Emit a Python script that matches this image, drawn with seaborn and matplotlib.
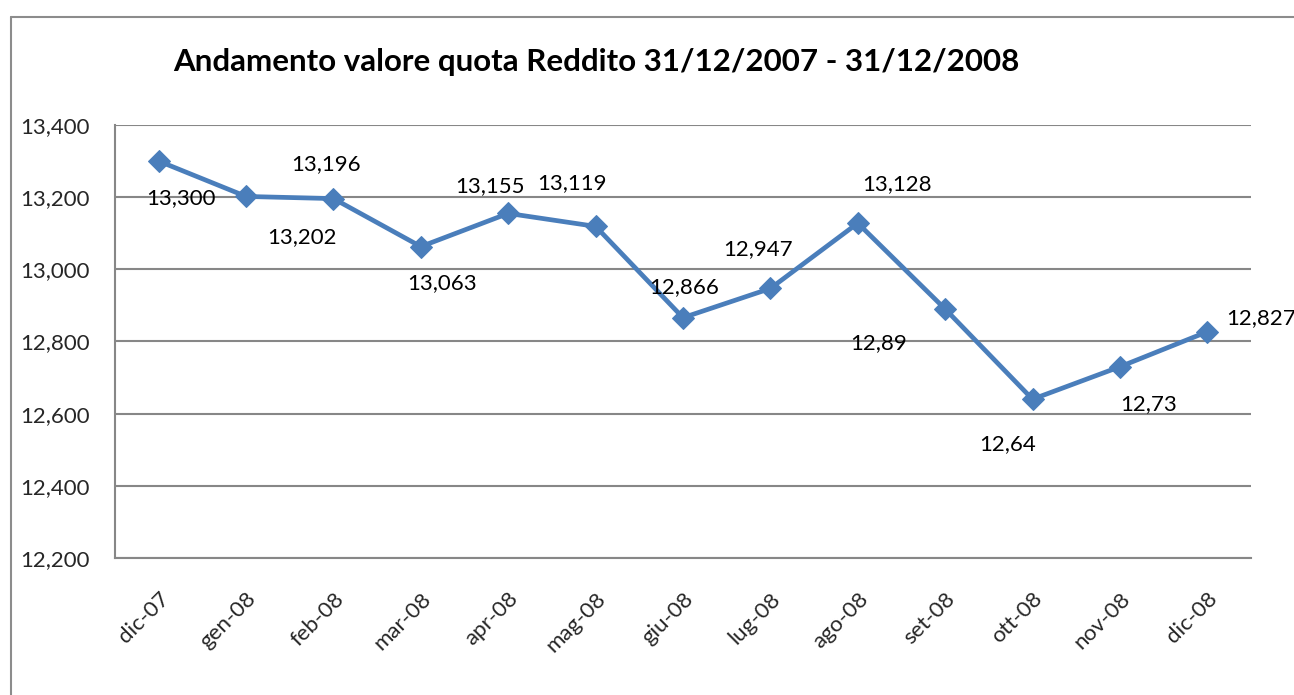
import pandas as pd
import matplotlib.pyplot as plt
import seaborn as sns
from matplotlib.lines import Line2D

# dati
mesi = ['dic-07', 'gen-08', 'feb-08', 'mar-08', 'apr-08', 'mag-08', 'giu-08',
        'lug-08', 'ago-08', 'set-08', 'ott-08', 'nov-08', 'dic-08']
valori = [13.300, 13.202, 13.196, 13.063, 13.155, 13.119, 12.866,
          12.947, 13.128, 12.89, 12.64, 12.73, 12.827]
etichette = ['13,300', '13,202', '13,196', '13,063', '13,155', '13,119', '12,866',
             '12,947', '13,128', '12,89', '12,64', '12,73', '12,827']
# spostamento etichette (pixel)
offset_etichette = [(22, -37), (56, -41), (-7, 35), (21, -36), (-18, 27), (-24, 43),
                    (1, 31), (-12, 39), (39, 39), (-67, -34), (-25, -45), (29, -37), (54, 14)]
tick_y = [12.2, 12.4, 12.6, 12.8, 13.0, 13.2, 13.4]

df = pd.DataFrame({'mese': mesi, 'valore': valori})
df['pos'] = range(len(df))

sns.set_theme(style="white")
plt.rcParams['font.family'] = ['Lato', 'DejaVu Sans']

blu = '#4a7ebb'
grigio = '#878787'

fig = plt.figure(figsize=(12.94, 6.95), dpi=100)
ax = fig.add_axes([115 / 1294, 1 - 558 / 695, (1251 - 115) / 1294, (558 - 125) / 695])

sns.lineplot(data=df, x='pos', y='valore', ax=ax, color=blu, linewidth=3.4,
             marker='D', markersize=11.5, markeredgecolor=blu, markerfacecolor=blu)

for x, y, t, (dx, dy) in zip(df['pos'], df['valore'], etichette, offset_etichette):
    ax.annotate(t, (x, y), xytext=(dx, dy), textcoords='offset pixels',
                ha='center', va='center', fontsize=16, color='black',
                annotation_clip=False)

ax.set_xlim(-0.5, len(mesi) - 0.5)
ax.set_ylim(12.2, 13.4)
ax.set_yticks(tick_y)
ax.set_yticklabels([f'{v:.3f}'.replace('.', ',') for v in tick_y], fontsize=16)
ax.set_xticks(df['pos'])
ax.set_xticklabels(mesi, rotation=45, ha='right', rotation_mode='anchor', fontsize=16)
ax.tick_params(axis='y', length=0, pad=18)
ax.tick_params(axis='x', length=0, pad=22)
ax.set_xlabel('')
ax.set_ylabel('')

ax.yaxis.grid(True, color=grigio, linewidth=1.5)
ax.xaxis.grid(False)
for lato in ['top', 'right']:
    ax.spines[lato].set_visible(False)
for lato in ['left', 'bottom']:
    ax.spines[lato].set_color(grigio)
    ax.spines[lato].set_linewidth(1.5)

fig.text(596 / 1294, 1 - 62 / 695, 'Andamento valore quota Reddito 31/12/2007 - 31/12/2008',
         ha='center', va='center', fontsize=22.5, fontweight='bold', color='black')

# cornice del grafico
fig.add_artist(Line2D([11 / 1294, 11 / 1294], [0, 1 - 17 / 695], transform=fig.transFigure,
                      color='#8c8c8c', linewidth=1.5))
fig.add_artist(Line2D([11 / 1294, 1], [1 - 17 / 695, 1 - 17 / 695], transform=fig.transFigure,
                      color='#8c8c8c', linewidth=1.5))

fig.savefig('out.png', dpi=100)
